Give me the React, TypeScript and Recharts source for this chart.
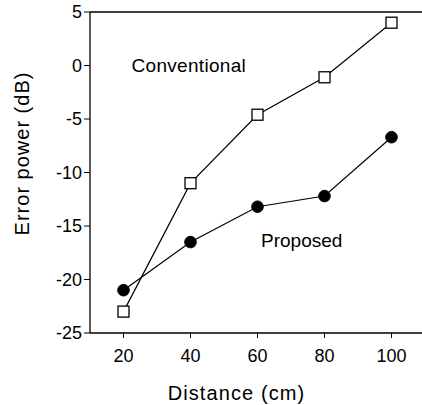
import React from 'react';
import { LineChart, Line, XAxis, YAxis, ReferenceLine, ReferenceDot } from 'recharts';

const distances = [20, 40, 60, 80, 100];
const conventional = [-23.0, -11.0, -4.6, -1.1, 4.0];
const proposed = [-21.0, -16.5, -13.2, -12.2, -6.7];
const xTicks = [20, 40, 60, 80, 100];
const yTicks = [-25, -20, -15, -10, -5, 0, 5];

const data = distances.map((d, i) => ({ d, conventional: conventional[i], proposed: proposed[i] }));

const FONT = 'Liberation Sans, Arial, Helvetica, sans-serif';

const Square = (props: any) => {
  const { cx, cy, index } = props;
  if (cx == null || cy == null) return null;
  return <rect key={`sq-${index}`} x={cx - 5.5} y={cy - 5.5} width={11} height={11} fill="#fff" stroke="#000" strokeWidth={1.3} />;
};

const Circle = (props: any) => {
  const { cx, cy, index } = props;
  if (cx == null || cy == null) return null;
  return <circle key={`ci-${index}`} cx={cx} cy={cy} r={5.8} fill="#000" stroke="#000" />;
};

export default function App() {
  return (
    <div style={{ position: 'absolute', left: 0, top: 0, width: 422, height: 405, overflow: 'hidden', background: '#fff' }}>
      <LineChart
        width={430}
        height={405}
        data={data}
        margin={{ top: 12, right: 5, left: 0, bottom: 0 }}
        style={{ fontFamily: FONT }}
      >
        <XAxis
          dataKey="d"
          type="number"
          domain={[10, 110]}
          ticks={xTicks}
          height={72}
          tickSize={5}
          tickMargin={11}
          axisLine={{ stroke: '#000', strokeWidth: 1.3 }}
          tickLine={{ stroke: '#000' }}
          tick={{ fill: '#000', fontSize: 18, fontFamily: FONT }}
          label={{ value: 'Distance (cm)', position: 'insideBottom', offset: 5, dx: -21, fill: '#000', fontSize: 20, fontFamily: FONT, letterSpacing: 1.1 }}
        />
        <YAxis
          type="number"
          domain={[-25, 5]}
          ticks={yTicks}
          width={90}
          tickSize={6}
          tickMargin={2}
          axisLine={{ stroke: '#000', strokeWidth: 1.3 }}
          tickLine={{ stroke: '#000' }}
          tick={{ fill: '#000', fontSize: 18, fontFamily: FONT }}
          label={{ value: 'Error power (dB)', angle: -90, position: 'center', dx: -23, dy: -19, fill: '#000', fontSize: 20, fontFamily: FONT, letterSpacing: 1 }}
        />
        <ReferenceLine y={5} stroke="#000" strokeWidth={1.3} />
        <ReferenceDot x={39.5} y={0} r={0} stroke="none" fill="none"
          label={{ value: 'Conventional', position: 'center', fill: '#000', fontSize: 19, fontFamily: FONT, letterSpacing: 0.3 }} />
        <ReferenceDot x={73.2} y={-16.3} r={0} stroke="none" fill="none"
          label={{ value: 'Proposed', position: 'center', fill: '#000', fontSize: 19, fontFamily: FONT }} />
        <Line dataKey="conventional" stroke="#000" strokeWidth={1.2} dot={Square} activeDot={false} isAnimationActive={false} />
        <Line dataKey="proposed" stroke="#000" strokeWidth={1.2} dot={Circle} activeDot={false} isAnimationActive={false} />
      </LineChart>
    </div>
  );
}
